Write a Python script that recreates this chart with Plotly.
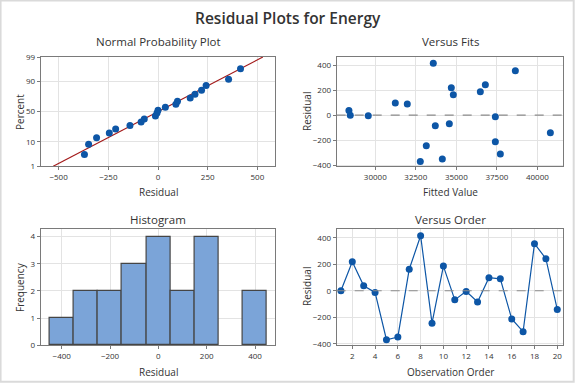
import math
import numpy as np
import plotly.graph_objects as go

# ---------------- data ----------------
residuals = [0, 219, 37, -13, -370, -349, 162, 415, -245, 186,
             -69, -5, -85, 98, 90, -213, -309, 355, 242, -141]
fitted = [28457, 34691, 28374, 37407, 32778, 34136, 34815, 33580, 33148, 36481,
          34568, 29568, 33704, 31235, 31975, 37407, 37716, 38642, 36790, 40802]
order = list(range(1, 21))
pct_ticks = [1, 10, 50, 90, 99]
fit_ticks = [30000, 32500, 35000, 37500, 40000]
res_ticks = [-400, -200, 0, 200, 400]


def norm_ppf(p):
    # Acklam's rational approximation of the inverse normal CDF
    a = [-3.969683028665376e+01, 2.209460984245205e+02, -2.759285104469687e+02,
         1.383577518672690e+02, -3.066479806614716e+01, 2.506628277459239e+00]
    b = [-5.447609879822406e+01, 1.615858368580409e+02, -1.556989798598866e+02,
         6.680131188771972e+01, -1.328068155288572e+01]
    c = [-7.784894002430293e-03, -3.223964580411365e-01, -2.400758277161838e+00,
         -2.549732539343734e+00, 4.374664141464968e+00, 2.938163982698783e+00]
    d = [7.784695709041462e-03, 3.224671290700398e-01, 2.445134137142996e+00,
         3.754408661907416e+00]
    plow = 0.02425
    if p < plow:
        q = math.sqrt(-2 * math.log(p))
        return (((((c[0]*q+c[1])*q+c[2])*q+c[3])*q+c[4])*q+c[5]) / ((((d[0]*q+d[1])*q+d[2])*q+d[3])*q+1)
    if p > 1 - plow:
        q = math.sqrt(-2 * math.log(1 - p))
        return -(((((c[0]*q+c[1])*q+c[2])*q+c[3])*q+c[4])*q+c[5]) / ((((d[0]*q+d[1])*q+d[2])*q+d[3])*q+1)
    q = p - 0.5
    r = q * q
    return (((((a[0]*r+a[1])*r+a[2])*r+a[3])*r+a[4])*r+a[5])*q / (((((b[0]*r+b[1])*r+b[2])*r+b[3])*r+b[4])*r+1)


n = len(residuals)
sorted_res = sorted(residuals)
probs = [(i + 1 - 0.3) / (n + 0.4) for i in range(n)]
zvals = [norm_ppf(p) for p in probs]
mu = float(np.mean(residuals))
sd = float(np.std(residuals, ddof=1))
zlo, zhi = norm_ppf(0.01), norm_ppf(0.99)
line_z = [zlo, zhi]
line_x = [mu + sd * z for z in line_z]

BLUE = "#0D56A6"
FONT = "Open Sans"
TXT = "#333333"

fig = go.Figure()

# Normal probability plot
fig.add_trace(go.Scatter(x=line_x, y=line_z, mode="lines",
                         line=dict(color="#A31A1A", width=1.2),
                         xaxis="x", yaxis="y", showlegend=False))
fig.add_trace(go.Scatter(x=sorted_res, y=zvals, mode="markers",
                         marker=dict(color=BLUE, size=7),
                         xaxis="x", yaxis="y", showlegend=False))

# Versus fits
fig.add_trace(go.Scatter(x=fitted, y=residuals, mode="markers",
                         marker=dict(color=BLUE, size=7),
                         xaxis="x2", yaxis="y2", showlegend=False))

# Histogram
fig.add_trace(go.Histogram(x=residuals, xbins=dict(start=-450, end=450, size=100),
                           marker=dict(color="#7BA4D8", line=dict(color="#454545", width=1.2)),
                           xaxis="x3", yaxis="y3", showlegend=False))

# Versus order
fig.add_trace(go.Scatter(x=order, y=residuals, mode="lines+markers",
                         line=dict(color=BLUE, width=1.2),
                         marker=dict(color=BLUE, size=7),
                         xaxis="x4", yaxis="y4", showlegend=False))

W, H = 576, 384
xdl = [40.7 / W, 275.3 / W]
xdr = [336.7 / W, 563.3 / W]
ydt = [1 - 166.3 / H, 1 - 57 / H]
ydb = [1 - 345.3 / H, 1 - 229 / H]

ax_common = dict(showline=True, mirror=True, linecolor="#7A7A7A", linewidth=1,
                 showgrid=True, gridcolor="#E3E3E3", gridwidth=1,
                 ticks="outside", ticklen=3, tickcolor="#7A7A7A",
                 tickfont=dict(family=FONT, size=8, color=TXT), zeroline=False,
                 automargin=False)

fig.update_layout(
    width=W, height=H, margin=dict(l=0, r=0, t=0, b=0, autoexpand=False),
    paper_bgcolor="white", plot_bgcolor="white", bargap=0,
    font=dict(family=FONT, color=TXT),
    xaxis=dict(domain=xdl, anchor="y", range=[-590, 590],
               tickvals=[-500, -250, 0, 250, 500], **ax_common),
    yaxis=dict(domain=ydt, anchor="x", range=[zlo, zhi],
               tickvals=[norm_ppf(p / 100) for p in pct_ticks],
               ticktext=[str(p) for p in pct_ticks], **ax_common),
    xaxis2=dict(domain=xdr, anchor="y2", range=[27620, 41600],
                tickvals=fit_ticks, ticktext=[str(t) for t in fit_ticks], **ax_common),
    yaxis2=dict(domain=ydt, anchor="x2", range=[-408, 464],
                tickvals=res_ticks, **ax_common),
    xaxis3=dict(domain=xdl, anchor="y3", range=[-487, 484],
                tickvals=res_ticks, **ax_common),
    yaxis3=dict(domain=ydb, anchor="x3", range=[0, 4.28],
                tickvals=[0, 1, 2, 3, 4], **ax_common),
    xaxis4=dict(domain=xdr, anchor="y4", range=[0.63, 20.53],
                tickvals=list(range(2, 21, 2)), **ax_common),
    yaxis4=dict(domain=ydb, anchor="x4", range=[-412, 466],
                tickvals=res_ticks, **ax_common),
)

shapes = [
    dict(type="line", xref="x2 domain", yref="y2", x0=0, x1=1, y0=0, y1=0,
         line=dict(color="#8C8C8C", width=1.2, dash="dash")),
    dict(type="line", xref="x4 domain", yref="y4", x0=0, x1=1, y0=0, y1=0,
         line=dict(color="#8C8C8C", width=1.2, dash="dash")),
    dict(type="rect", xref="paper", yref="paper", x0=0.001, x1=0.996, y0=0.006, y1=0.999,
         line=dict(color="#DADADA", width=2), fillcolor="rgba(0,0,0,0)", layer="below"),
]
fig.update_layout(shapes=shapes)


def ann(text, x, y, size, angle=0, weight="normal"):
    return dict(text=text, x=x / W, y=1 - y / H, xref="paper", yref="paper",
                showarrow=False, textangle=angle, xanchor="center", yanchor="middle",
                font=dict(family=FONT, size=size, color=TXT, weight=weight))


annotations = [
    ann("Residual Plots for Energy", 288, 18, 15.5, weight=600),
    ann("Normal Probability Plot", 158, 41, 11.5),
    ann("Versus Fits", 450, 41, 11.5),
    ann("Histogram", 158, 219, 11.5),
    ann("Versus Order", 450, 219, 11.5),
    ann("Residual", 158, 192, 10),
    ann("Fitted Value", 450, 192, 10),
    ann("Residual", 158, 372, 10),
    ann("Observation Order", 450, 372, 10),
    ann("Percent", 20, 112, 10, angle=-90),
    ann("Residual", 307, 112, 10, angle=-90),
    ann("Frequency", 20, 287, 10, angle=-90),
    ann("Residual", 307, 287, 10, angle=-90),
]
fig.update_layout(annotations=annotations)

fig.write_html("out.html", config={"displayModeBar": False},
               post_script="document.body.style.margin='0';document.body.style.padding='0';")
